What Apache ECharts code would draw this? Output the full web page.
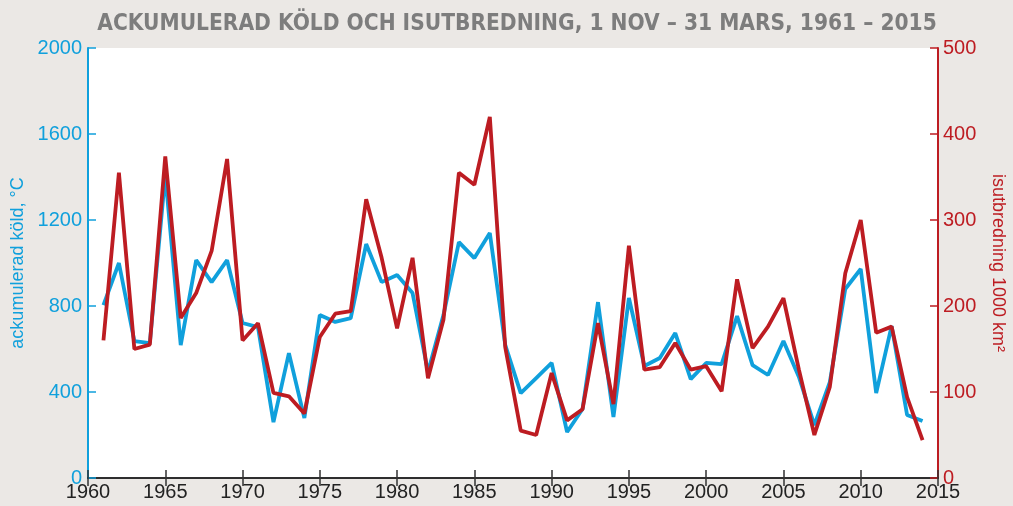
<!DOCTYPE html>
<html>
<head>
<meta charset="utf-8">
<script src="https://cdn.jsdelivr.net/npm/echarts@6/dist/echarts.min.js"></script>
<style>
  html, body { margin: 0; padding: 0; background: #ebe8e5; }
  #kyla { width: 1013px; height: 506px; }
</style>
</head>
<body>
<div id="kyla"></div>
<script>
	var years = [];
	for (var y = 1961; y <= 2014; y++) years.push(y);

	// ackumulerad köld, °C
	var kold = [804, 1000, 637, 627, 1410, 618, 1013, 911, 1013, 721,
		702, 260, 581, 279, 758, 726, 744, 1088, 911, 944,
		860, 493, 758, 1097, 1023, 1139, 618, 395, 465, 535,
		214, 321, 818, 284, 837, 521, 558, 674, 460, 535,
		530, 753, 525, 479, 637, 470, 246, 446, 879, 972,
		395, 707, 293, 265];

	// isutbredning 1000 km2
	var isut = [160, 355, 150, 155, 374, 186, 215, 264, 371, 160,
		180, 99, 95, 75, 164, 191, 194, 324, 256, 174,
		256, 116, 184, 355, 341, 420, 152, 55, 50, 122,
		67, 80, 180, 86, 270, 126, 129, 157, 126, 130,
		101, 231, 151, 176, 209, 126, 50, 106, 238, 300,
		169, 176, 94, 44];

	var blue = '#10a0dc';
	var red = '#bd1c22';
	var font = '"Liberation Sans", Arial, sans-serif';
	var plain = function (v) { return String(v); };

	function pairs(arr) {
		return years.map(function (yr, i) { return [yr, arr[i]]; });
	}

	var chartDom = document.getElementById('kyla');
	var myChart = echarts.init(chartDom);
	var option = {
		backgroundColor: '#ebe8e5',
		title: {
			text: 'ACKUMULERAD KÖLD OCH ISUTBREDNING, 1 NOV – 31 MARS, 1961 – 2015',
			left: 512, top: 8, textAlign: 'center',
			textStyle: {fontFamily: '"Liberation Sans Narrow", "DejaVu Sans Condensed", sans-serif',
				fontWeight: 'bold', fontSize: 22.5, color: '#7d7d7d'}
		},
		grid: {left: 88, right: 75, top: 48, bottom: 28, show: true, outerBoundsMode: 'none',
			containLabel: false, backgroundColor: '#ffffff', borderWidth: 0},
		xAxis: [
			{type: 'value', min: 1960, max: 2015, interval: 5, position: 'bottom',
				axisLine: {lineStyle: {color: '#222', width: 1.5}},
				axisTick: {inside: true, length: 8, lineStyle: {color: '#333', width: 1.5}},
				axisLabel: {color: '#222', fontSize: 20, fontFamily: font, margin: 4, formatter: plain},
				splitLine: {show: false}},
			{type: 'value', min: 1960, max: 2015, interval: 5, position: 'top',
				axisLine: {lineStyle: {color: '#222', width: 1.5}},
				axisTick: {inside: true, length: 8, lineStyle: {color: '#333', width: 1.5}},
				axisLabel: {show: false},
				splitLine: {show: false}}
		],
		yAxis: [
			{type: 'value', min: 0, max: 2000, interval: 400, position: 'left',
				name: 'ackumulerad köld, °C', nameLocation: 'middle', nameGap: 61, nameRotate: 90,
				nameTextStyle: {color: blue, fontSize: 18, fontFamily: font},
				axisLine: {show: true, lineStyle: {color: blue, width: 2}},
				axisTick: {show: true, inside: true, length: 8, lineStyle: {color: blue, width: 1.5}},
				axisLabel: {color: blue, fontSize: 20, fontFamily: font, margin: 6, formatter: plain},
				splitLine: {show: false}},
			{type: 'value', min: 0, max: 500, interval: 100, position: 'right',
				name: 'isutbredning 1000 km²', nameLocation: 'middle', nameGap: 51, nameRotate: -90,
				nameTextStyle: {color: red, fontSize: 18, fontFamily: font},
				axisLine: {show: true, lineStyle: {color: red, width: 2}},
				axisTick: {show: true, inside: true, length: 8, lineStyle: {color: red, width: 1.5}},
				axisLabel: {color: red, fontSize: 20, fontFamily: font, margin: 5, formatter: plain},
				splitLine: {show: false}}
		],
		series: [
			{type: 'line', name: 'köld', xAxisIndex: 0, yAxisIndex: 0, data: pairs(kold),
				showSymbol: false, lineStyle: {color: blue, width: 3.8}, z: 2},
			{type: 'line', name: 'isutbredning', xAxisIndex: 0, yAxisIndex: 1, data: pairs(isut),
				showSymbol: false, lineStyle: {color: red, width: 3.8}, z: 3}
		],
		animation: false
	};
	option && myChart.setOption(option);
</script>
</body>
</html>
